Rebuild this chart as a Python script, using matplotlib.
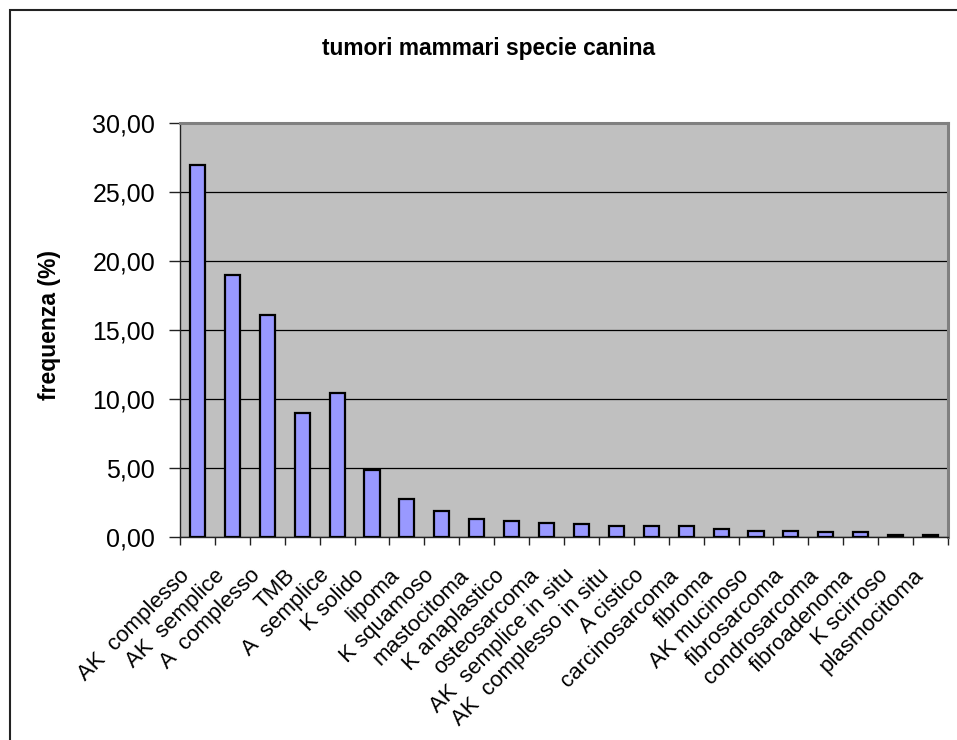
import matplotlib
matplotlib.use("Agg")
import matplotlib.pyplot as plt
from matplotlib.patches import Rectangle
from matplotlib.ticker import FuncFormatter, FixedLocator
from matplotlib.transforms import ScaledTranslation
import numpy as np

plt.rcParams['font.family'] = ['Liberation Sans', 'DejaVu Sans']

categories = [
    "AK  complesso", "AK  semplice", "A  complesso", "TMB", "A  semplice",
    "K solido", "lipoma", "K squamoso", "mastocitoma", "K anaplastico",
    "osteosarcoma", "AK  semplice in situ", "AK  complesso in situ",
    "A cistico", "carcinosarcoma", "fibroma", "AK mucinoso",
    "fibrosarcoma", "condrosarcoma", "fibroadenoma", "K scirroso",
    "plasmocitoma",
]
frequenza = [
    26.94, 18.96, 16.07, 9.02, 10.40, 4.86, 2.77, 1.85, 1.27, 1.16,
    1.04, 0.92, 0.81, 0.81, 0.81, 0.58, 0.46, 0.46, 0.35, 0.35, 0.12, 0.12,
]
y_ticks = [0, 5, 10, 15, 20, 25, 30]

W, H = 957, 740
fig = plt.figure(figsize=(W / 100, H / 100), dpi=100)
fig.patch.set_facecolor("white")

# outer chart frame
fig.patches.append(Rectangle((10 / W, -0.05), 1.2, 1 - 10 / H + 0.05,
                             transform=fig.transFigure, fill=False,
                             edgecolor="#222222", linewidth=1.5, zorder=0))

ax = fig.add_axes([180 / W, (H - 537) / H, (948 - 180) / W, (537 - 123) / H])
ax.set_facecolor("#C0C0C0")

x = np.arange(len(categories))
ax.bar(x, frequenza, width=0.43, color="#9999FF", edgecolor="black",
       linewidth=1.6, zorder=3)

ax.set_xlim(-0.5, len(categories) - 0.5)
ax.set_ylim(0, 30)
ax.yaxis.set_major_locator(FixedLocator(y_ticks))
ax.yaxis.set_major_formatter(FuncFormatter(lambda v, p: f"{v:.2f}".replace(".", ",")))
ax.yaxis.grid(True, color="black", linewidth=0.9, zorder=1)
ax.set_axisbelow(True)

ax.set_xticks(x)
ax.set_xticklabels(categories, rotation=45, ha="right", rotation_mode="anchor",
                   fontsize=16)
ax.tick_params(axis="x", which="major", length=0, pad=8)
ax.xaxis.set_minor_locator(FixedLocator(np.arange(-0.5, len(categories), 1.0)))
ax.tick_params(axis="x", which="minor", length=6, width=1, color="#222222",
               direction="out")
ax.tick_params(axis="y", which="major", length=8, width=1, color="#222222",
               direction="out", labelsize=18, pad=10)

# push the slanted category labels down-left along their own direction
shift = ScaledTranslation(-0.18, -0.17, fig.dpi_scale_trans)
for lbl in ax.get_xticklabels():
    lbl.set_transform(lbl.get_transform() + shift)

for side in ("left", "bottom"):
    ax.spines[side].set_color("#222222")
    ax.spines[side].set_linewidth(1.0)
for side in ("top", "right"):
    ax.spines[side].set_color("#808080")
    ax.spines[side].set_linewidth(2.2)

fig.text(489 / W, 1 - 48 / H, "tumori mammari specie canina", ha="center",
         va="center", fontsize=16.4, fontweight="bold")
fig.text(50 / W, 1 - 325 / H, "frequenza (%)", ha="center", va="center",
         rotation=90, fontsize=16.5, fontweight="bold")

fig.savefig("out.png", dpi=100)
